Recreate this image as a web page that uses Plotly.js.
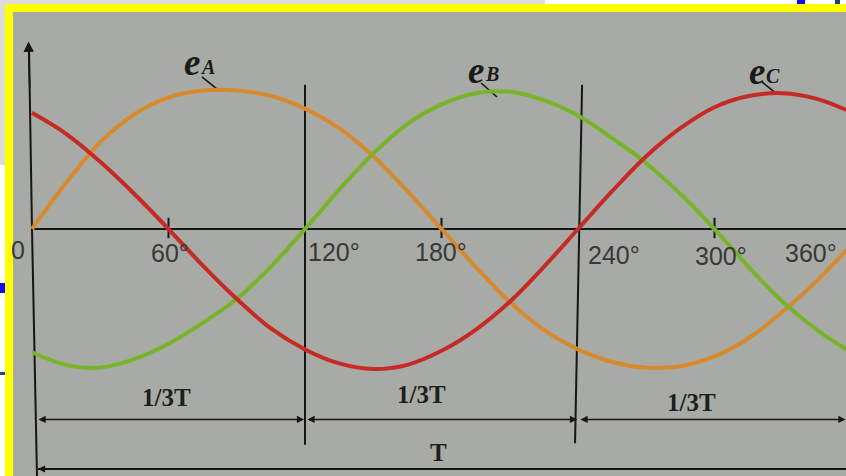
<!DOCTYPE html>
<html>
<head>
<meta charset="utf-8">
<script src="https://cdn.plot.ly/plotly-3.0.1.min.js"></script>
<style>
html,body{margin:0;padding:0;background:#ffffff;}
#chart{width:846px;height:476px;}
</style>
</head>
<body>
<div id="chart"></div>
<script>
// ---- data (x in degrees, y in amplitude units) ----
const angles = [0, 15, 30, 45, 60, 75, 90, 105, 120, 135, 150, 165, 180, 195, 210, 225, 240, 255, 270, 285, 300, 315, 330, 345, 358];
const valA = [0, 0.33, 0.62, 0.82, 0.94, 0.99, 0.99, 0.95, 0.86, 0.72, 0.52, 0.27, 0, -0.27, -0.52, -0.72, -0.86, -0.95, -0.99, -0.98, -0.91, -0.78, -0.59, -0.37, -0.15];
const valB = [-0.88, -0.97, -0.99, -0.93, -0.82, -0.67, -0.50, -0.27, 0, 0.28, 0.54, 0.75, 0.89, 0.97, 0.98, 0.92, 0.81, 0.65, 0.47, 0.25, 0, -0.27, -0.52, -0.72, -0.86];
const valC = [0.83, 0.68, 0.48, 0.25, 0, -0.26, -0.50, -0.71, -0.86, -0.96, -1.0, -0.97, -0.87, -0.72, -0.52, -0.27, 0, 0.27, 0.52, 0.72, 0.87, 0.95, 0.97, 0.93, 0.85];

const tickAngles = [60, 180, 300];
const tickLabels = ["0", "60°", "120°", "180°", "240°", "300°", "360°"];
const dividerAngles = [120, 240];
const periodLabels = ["1/3T", "1/3T", "1/3T"];
const totalLabel = "T";
const seriesLetters = ["A", "B", "C"];

// ---- styling / placement (not data) ----
const XR = [-8.35, 357.8];
const YR = [-1.764, 1.55];
const cols = ["#d8892e", "#78b42a", "#c62a24"];
const ink = "#161616";
const txt = "#383838";

const mk = (v, c) => ({x: angles, y: v, mode: "lines", line: {color: c, width: 4, shape: "spline", smoothing: 1}, hoverinfo: "skip"});
const traces = [mk(valA, cols[0]), mk(valB, cols[1]), mk(valC, cols[2])];

const shapes = [];
const line = (x0, y0, x1, y1, w, c) => shapes.push({type: "line", xref: "x", yref: "y", x0, y0, x1, y1, line: {color: c || ink, width: w || 2}, layer: "below"});

// x axis
line(0, 0, XR[1], 0, 2);
// y axis (upwards part and its downward continuation)
line(0, 0, -1.3, 1.28, 2);
line(0, 0, 2.2, YR[0], 2);
// ticks
tickAngles.forEach(a => line(a, 0.08, a, -0.065, 2));
// dividers
line(dividerAngles[0], 1.03, dividerAngles[0], -1.54, 2);
line(dividerAngles[1] + 1.8, 1.03, dividerAngles[1] - 1.3, -1.53, 2);
// total period line
line(2.6, -1.714, XR[1], -1.714, 2);
// leader lines for labels
line(74.7, 1.086, 81.8, 0.993, 1.6);
line(197.4, 1.043, 204.4, 0.943, 1.6);
line(320.9, 1.05, 327.5, 0.964, 1.6);

// paper-level decoration: yellow frame is paper bg; white / grey strips outside it
const W = 833, H = 464;
const px = p => (p - 13) / W;
const py = p => (476 - p) / H;
const rect = (x0, y0, x1, y1, c) => shapes.push({type: "rect", xref: "paper", yref: "paper", x0: px(x0), y0: py(y1), x1: px(x1), y1: py(y0), fillcolor: c, line: {width: 0}, layer: "above"});
rect(0, 0, 545, 4, "#dcdcdc");
rect(545, 0, 846, 4, "#ffffff");
rect(797, 0, 805, 4, "#1010ee");
rect(835, 0, 840, 4, "#1a3d8a");
rect(0, 0, 5, 165, "#dcdcdc");
rect(0, 165, 5, 476, "#ffffff");
rect(0, 283, 5, 293, "#1010ee");
rect(0, 372, 5, 375, "#244a8c");

const ann = [];
const label = (x, y, text, size, fam, color) => ann.push({x, y, xref: "x", yref: "y", text, showarrow: false, xanchor: "center", yanchor: "middle", font: {size, family: fam, color: color || txt}});

// tick labels
const sans = "Liberation Sans, Arial, sans-serif";
const serif = "Liberation Serif, Times New Roman, serif";
const tickPos = [[-6.15, -0.15], [60.5, -0.17], [132.7, -0.165], [179.8, -0.165], [255.8, -0.185], [302.9, -0.19], [342.4, -0.17]];
tickLabels.forEach((t, i) => label(tickPos[i][0], tickPos[i][1], t, 25, sans));

// 1/3T labels and T
const perPos = [[59.3, -1.2], [171, -1.18], [289.7, -1.236]];
periodLabels.forEach((t, i) => label(perPos[i][0], perPos[i][1], "<b>" + t + "</b>", 25, serif, "#1e1e1e"));
label(178.5, -1.593, "<b>" + totalLabel + "</b>", 25, serif, "#1e1e1e");

// series labels e_A, e_B, e_C
const ePos = [[70.3, 1.19], [195.2, 1.135], [318.7, 1.125]];
seriesLetters.forEach((s, i) => {
  label(ePos[i][0], ePos[i][1], "<b><i>e</i></b>", 37, serif, "#1a1a1a");
  label(ePos[i][0] + 7.0, ePos[i][1] - 0.03, "<b><i>" + s + "</i></b>", 20, serif, "#1a1a1a");
});

// arrows
const arrow = (hx, hy, tx, ty, side, sz) => ann.push({x: hx, y: hy, ax: tx, ay: ty, xref: "x", yref: "y", axref: "x", ayref: "y", text: "", showarrow: true, arrowhead: 2, arrowsize: sz || 0.9, arrowwidth: 1.6, arrowcolor: ink, arrowside: side || "end", standoff: 0, startstandoff: 0, startarrowhead: 2, startarrowsize: sz || 0.9});
// y axis arrow
arrow(-1.55, 1.34, -1.0, 1.0, "end", 1.3);
// 1/3 T dimension arrows
arrow(119.6, -1.36, 2.2, -1.36, "end+start");
arrow(239.6, -1.36, 120.4, -1.36, "end+start");
arrow(357.6, -1.36, 240.4, -1.36, "end+start");
// total period arrow (left head)
arrow(2.6, -1.714, 40, -1.714, "end");

const layout = {
  width: 846, height: 476,
  margin: {l: 13, r: 0, t: 12, b: 0, pad: 0},
  paper_bgcolor: "#ffff00",
  plot_bgcolor: "#a8aaa6",
  showlegend: false,
  xaxis: {range: XR, visible: false, fixedrange: true},
  yaxis: {range: YR, visible: false, fixedrange: true},
  shapes, annotations: ann
};

Plotly.newPlot("chart", traces, layout, {staticPlot: true, displayModeBar: false});
</script>
</body>
</html>
